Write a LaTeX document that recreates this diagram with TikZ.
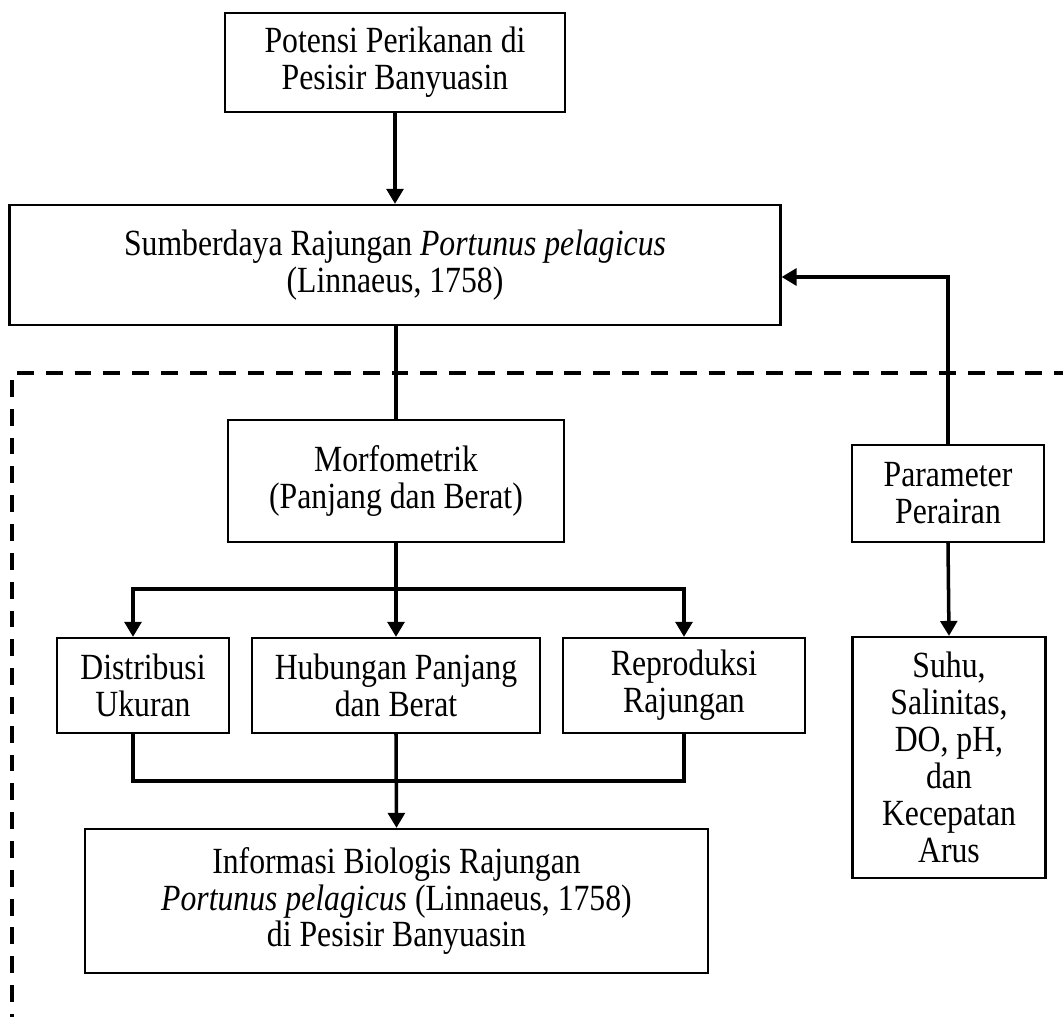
\documentclass[tikz,border=0pt]{standalone}
\usepackage{fontspec}
\setmainfont{Liberation Serif}[FakeStretch=0.86]
\usepackage{tikz}
\usetikzlibrary{positioning,arrows.meta,calc}

\begin{document}
\begin{tikzpicture}[x=0.02cm,y=-0.02cm,
  font=\fontsize{21}{21}\selectfont,
  box/.style={rectangle,draw=black,line width=1.3pt,inner sep=2pt,align=center},
  ar/.style={-{Triangle[length=8.5pt,width=9.5pt]},line width=2pt},
  ln/.style={line width=2pt},
  dsh/.style={line width=2pt,dash pattern=on 9.6pt off 6.8pt}]
\useasboundingbox (0,0) rectangle (1063,1017);
% research scope frame
\draw[dsh] (17,373) -- (1063,373);
\draw[dsh] (12,380) -- (12,1017);
% main chain
\node[box,minimum width=6.8cm,minimum height=1.98cm] (pot) at (395,62.5) {Potensi Perikanan di\\Pesisir Banyuasin};
\node[box,minimum width=15.42cm,minimum height=2.4cm] (sum) at (395,265) {Sumberdaya Rajungan \textit{Portunus pelagicus}\\(Linnaeus, 1758)};
\node[box,minimum width=6.72cm,minimum height=2.44cm] (morf) at (396,481) {Morfometrik\\(Panjang dan Berat)};
% analyses
\node[box,minimum width=3.44cm,minimum height=1.9cm] (dist) at (143,685.5) {Distribusi\\Ukuran};
\node[box,minimum width=5.76cm,minimum height=1.9cm] (hub) at (396,685.5) {Hubungan Panjang\\dan Berat};
\node[box,minimum width=4.84cm,minimum height=1.9cm] (rep) at (684,685.5) {Reproduksi\\Rajungan};
\node[box,minimum width=12.46cm,minimum height=2.88cm] (info) at (396.5,901) {Informasi Biologis Rajungan\\\textit{Portunus pelagicus} (Linnaeus, 1758)\\di Pesisir Banyuasin};
% water parameters
\node[box,minimum width=3.84cm,minimum height=1.94cm] (par) at (948,493.5) {Parameter\\Perairan};
\node[box,minimum width=3.86cm,minimum height=4.82cm] (suhu) at (949,757.5) {Suhu,\\Salinitas,\\DO, pH,\\dan\\Kecepatan\\Arus};
\coordinate (br) at (396,589);
\coordinate (mg) at (396,781);
% connectors
\draw[ar] (pot.south) -- (pot.south |- sum.north);
\draw[ln] (sum.south -| morf.north) -- (morf.north);
\draw[ar] (morf.south) -- (hub.north);
\draw[ar] (br) -| ([xshift=-0.2cm]dist.north);
\draw[ar] (br) -| (rep.north);
\draw[ln] ([xshift=-0.2cm]dist.south) |- (mg) -| (rep.south);
\draw[ar] (hub.south) -- (info.north);
\draw[ar] (par.north) |- ([yshift=-0.24cm]sum.east);
\draw[ar] (par.south) -- (suhu.north);
\end{tikzpicture}
\end{document}
